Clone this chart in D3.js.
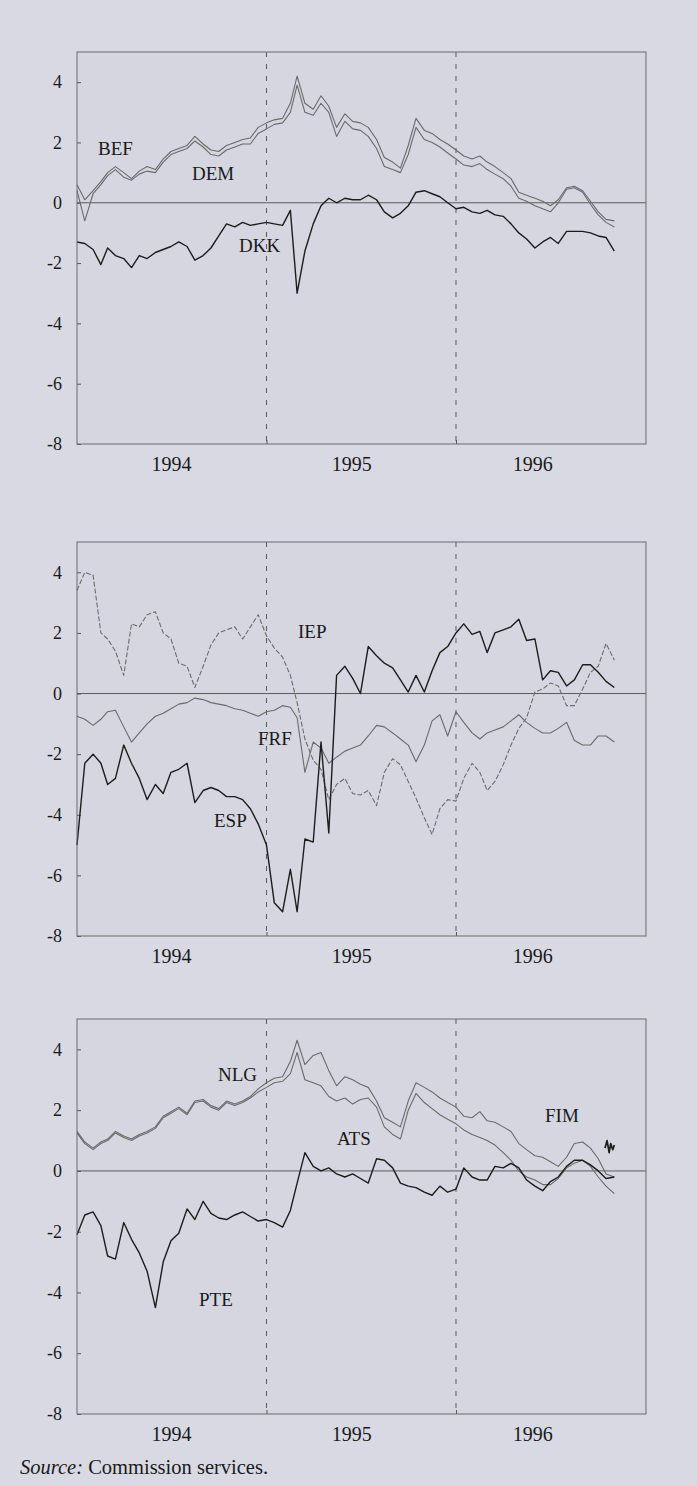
<!DOCTYPE html>
<html>
<head>
<meta charset="utf-8">
<script src="https://cdn.jsdelivr.net/npm/d3@7/dist/d3.min.js"></script>
<style>
  html, body { margin: 0; padding: 0; background: #d9d9e3; }
  svg { display: block; }
  text { font-family: "Liberation Serif", "Times New Roman", serif; fill: #1a1a1a; }
</style>
</head>
<body>
<svg id="chart" width="697" height="1486"></svg>
<script>
// ---------- DATA (semi-monthly readings, 1 Jan 1994 .. 1 Nov 1996) ----------
const nPoints = 69;
const dates = d3.range(nPoints).map(i => new Date(1994, Math.floor(i / 2), i % 2 ? 16 : 1));

const yTicks = [4, 2, 0, -2, -4, -6, -8];
const yearLabels = ["1994", "1995", "1996"];
const yearLabelDates = [new Date(1994, 6, 2), new Date(1995, 5, 14), new Date(1996, 4, 28)];
const yearBreaks = [new Date(1995, 0, 1), new Date(1996, 0, 1)];

// Panel 1
const bef = [0.6,0.1,0.4,0.7,1.0, 1.2,1.0,0.8,1.05,1.2, 1.1,1.45,1.7,1.8,1.9, 2.2,1.95,1.75,1.7,1.9, 2.0,2.1,2.15,2.5,2.65, 2.75,2.8,3.3,4.2,3.3, 3.1,3.55,3.2,2.5,2.95, 2.7,2.65,2.5,2.1,1.5, 1.35,1.15,1.9,2.8,2.4, 2.3,2.1,1.95,1.75,1.55, 1.45,1.55,1.35,1.2,1.0, 0.8,0.35,0.25,0.15,0.05, -0.1,0.1,0.5,0.55,0.4, 0.05,-0.3,-0.55,-0.6];
const dem = [0.4,-0.6,0.3,0.6,0.9, 1.1,0.85,0.75,0.95,1.05, 1.0,1.35,1.6,1.7,1.8, 2.05,1.85,1.6,1.55,1.75, 1.85,1.95,1.95,2.3,2.45, 2.6,2.65,3.0,3.9,3.0, 2.9,3.3,3.0,2.2,2.7, 2.45,2.4,2.2,1.8,1.2, 1.1,1.0,1.6,2.5,2.1, 2.0,1.85,1.65,1.45,1.25, 1.2,1.3,1.1,0.95,0.8, 0.55,0.15,0.05,-0.1,-0.2, -0.3,0.0,0.45,0.5,0.35, -0.05,-0.4,-0.65,-0.8];
const dkk = [-1.3,-1.35,-1.55,-2.05,-1.5, -1.75,-1.85,-2.15,-1.75,-1.85, -1.65,-1.55,-1.45,-1.3,-1.45, -1.9,-1.75,-1.5,-1.1,-0.7, -0.8,-0.65,-0.75,-0.7,-0.65, -0.7,-0.75,-0.25,-3.0,-1.6, -0.7,-0.1,0.15,0.0,0.15, 0.1,0.1,0.25,0.1,-0.3, -0.5,-0.35,-0.1,0.35,0.4, 0.3,0.2,0.0,-0.2,-0.15, -0.3,-0.35,-0.25,-0.4,-0.45, -0.7,-1.0,-1.2,-1.5,-1.3, -1.15,-1.35,-0.95,-0.95,-0.95, -1.0,-1.1,-1.15,-1.6];

// Panel 2
const iep = [3.4,4.0,3.9,2.0,1.8, 1.4,0.6,2.3,2.2,2.6, 2.7,2.0,1.8,1.0,0.9, 0.2,0.9,1.6,2.0,2.1, 2.2,1.8,2.2,2.6,1.9, 1.5,1.2,0.6,-0.3,-1.5, -2.2,-2.5,-3.5,-3.0,-2.8, -3.3,-3.35,-3.2,-3.7,-2.6, -2.15,-2.35,-2.9,-3.45,-4.1, -4.65,-3.8,-3.5,-3.55,-2.8, -2.3,-2.6,-3.2,-2.9,-2.35, -1.7,-1.15,-0.8,0.05,0.15, 0.35,0.25,-0.4,-0.4,0.15, 0.7,0.9,1.65,1.1];
const frf = [-0.75,-0.85,-1.05,-0.85,-0.6, -0.55,-1.1,-1.6,-1.3,-1.0, -0.75,-0.65,-0.5,-0.35,-0.3, -0.15,-0.2,-0.3,-0.35,-0.4, -0.5,-0.55,-0.65,-0.75,-0.6, -0.55,-0.4,-0.45,-0.8,-2.6, -1.6,-1.8,-2.3,-2.1,-1.9, -1.8,-1.7,-1.4,-1.05,-1.1, -1.3,-1.5,-1.7,-2.25,-1.7, -0.9,-0.7,-1.4,-0.6,-0.95, -1.3,-1.5,-1.3,-1.2,-1.1, -0.9,-0.7,-0.95,-1.15,-1.3, -1.3,-1.15,-0.95,-1.55,-1.7, -1.7,-1.4,-1.4,-1.6];
const esp = [-5.0,-2.3,-2.0,-2.3,-3.0, -2.8,-1.7,-2.3,-2.8,-3.5, -3.0,-3.3,-2.6,-2.5,-2.3, -3.6,-3.2,-3.1,-3.2,-3.4, -3.4,-3.5,-3.8,-4.3,-5.0, -6.9,-7.2,-5.8,-7.2,-4.8, -4.9,-1.6,-4.6,0.6,0.9, 0.5,0.0,1.55,1.25,1.0, 0.85,0.45,0.05,0.6,0.05, 0.75,1.35,1.55,2.0,2.3, 1.95,2.05,1.35,2.0,2.1, 2.2,2.45,1.75,1.8,0.45, 0.75,0.7,0.25,0.45,0.95, 0.95,0.7,0.4,0.2];

// Panel 3
const nlg = [1.3,0.95,0.75,0.95,1.05, 1.3,1.15,1.05,1.2,1.3, 1.45,1.8,1.95,2.1,1.9, 2.3,2.35,2.15,2.05,2.3, 2.2,2.3,2.45,2.7,2.9, 3.05,3.1,3.6,4.3,3.5, 3.8,3.9,3.3,2.8,3.1, 3.0,2.85,2.75,2.3,1.75, 1.6,1.45,2.3,2.9,2.75, 2.6,2.4,2.25,2.1,1.8, 1.75,1.95,1.65,1.6,1.45, 1.3,0.9,0.7,0.5,0.45, 0.3,0.15,0.45,0.9,0.95, 0.75,0.4,-0.1,-0.2];
const ats = [1.25,0.9,0.7,0.9,1.0, 1.25,1.1,1.0,1.15,1.25, 1.4,1.75,1.9,2.05,1.85, 2.25,2.3,2.1,2.0,2.25, 2.15,2.25,2.4,2.6,2.75, 2.9,2.95,3.2,3.9,3.0, 2.9,2.8,2.45,2.3,2.4, 2.2,2.35,2.4,2.1,1.45, 1.2,1.05,2.0,2.55,2.25, 2.05,1.85,1.7,1.55,1.35, 1.2,1.1,1.0,0.85,0.6, 0.35,0.0,-0.2,-0.3,-0.45, -0.45,-0.25,0.1,0.25,0.35, 0.15,-0.2,-0.5,-0.75];
const pte = [-2.1,-1.45,-1.35,-1.8,-2.8, -2.9,-1.7,-2.25,-2.7,-3.3, -4.5,-3.0,-2.3,-2.05,-1.25, -1.6,-1.0,-1.4,-1.55,-1.6, -1.45,-1.35,-1.5,-1.65,-1.6, -1.7,-1.85,-1.3,-0.4,0.6, 0.15,0.0,0.1,-0.1,-0.2, -0.1,-0.25,-0.4,0.4,0.35, 0.1,-0.4,-0.5,-0.55,-0.7, -0.8,-0.5,-0.7,-0.6,0.1, -0.2,-0.3,-0.3,0.15,0.1, 0.25,0.1,-0.3,-0.5,-0.65, -0.35,-0.2,0.15,0.35,0.35, 0.2,0.0,-0.25,-0.2];
const fimDates = [new Date(1996,9,14), new Date(1996,9,18), new Date(1996,9,22), new Date(1996,9,25), new Date(1996,9,29), new Date(1996,10,1)];
const fimValues = [0.75, 1.0, 0.6, 0.9, 0.7, 0.85];

// ---------- LAYOUT ----------
const left = 77, right = 646;
const x = d3.scaleTime().domain([new Date(1994,0,1), new Date(1997,0,1)]).range([left, right]);

const BLACK = "#1c1c1c", GREY = "#6a6a6a";
const panels = [
  { top: 52, bottom: 444,
    series: [
      { v: bef, color: GREY, w: 1.1 },
      { v: dem, color: GREY, w: 1.1 },
      { v: dkk, color: BLACK, w: 1.4 } ],
    labels: [ ["BEF", 98, 155], ["DEM", 192, 180], ["DKK", 239, 252] ] },
  { top: 542, bottom: 936,
    series: [
      { v: iep, color: "#6c6c6c", w: 1.1, dash: "5,2" },
      { v: frf, color: GREY, w: 1.1 },
      { v: esp, color: BLACK, w: 1.4 } ],
    labels: [ ["IEP", 298, 638], ["FRF", 258, 745], ["ESP", 214, 827] ] },
  { top: 1019, bottom: 1414,
    series: [
      { v: nlg, color: GREY, w: 1.1 },
      { v: ats, color: GREY, w: 1.1 },
      { v: pte, color: BLACK, w: 1.4 },
      { v: fimValues, d: fimDates, color: BLACK, w: 1.7 } ],
    labels: [ ["NLG", 218, 1081], ["ATS", 337, 1145], ["FIM", 545, 1122], ["PTE", 199, 1306] ] }
];

const svg = d3.select("#chart");
svg.append("rect").attr("width", 697).attr("height", 1486).attr("fill", "#d9d9e3");

panels.forEach(p => {
  const y = d3.scaleLinear().domain([-8, 5]).range([p.bottom, p.top]);
  const g = svg.append("g");

  g.append("rect").attr("x", left).attr("y", p.top)
    .attr("width", right - left).attr("height", p.bottom - p.top)
    .attr("fill", "#d6d6e0");

  g.selectAll(".yb").data(yearBreaks).enter().append("line")
    .attr("x1", d => x(d)).attr("x2", d => x(d))
    .attr("y1", p.top).attr("y2", p.bottom)
    .attr("stroke", "#5a5a5a").attr("stroke-width", 1)
    .attr("stroke-dasharray", "5,7");

  g.append("line").attr("x1", left).attr("x2", right)
    .attr("y1", y(0)).attr("y2", y(0))
    .attr("stroke", "#5a5a5a").attr("stroke-width", 1);

  const yAxis = d3.axisLeft(y).tickValues(yTicks).tickSize(-4).tickPadding(15)
    .tickFormat(d => d < 0 ? "-" + Math.abs(d) : String(d));
  const ya = g.append("g").attr("transform", `translate(${left},0)`).call(yAxis);
  ya.select(".domain").remove();
  ya.selectAll("line").attr("stroke", "#555");
  ya.selectAll("text").attr("font-size", 18).style("font-family", '"Liberation Serif", serif').attr("fill", "#1a1a1a");

  const xa = g.append("g").attr("transform", `translate(0,${p.bottom})`)
    .call(d3.axisBottom(x).tickValues(yearBreaks).tickSize(-4).tickFormat(""));
  xa.select(".domain").remove();
  xa.selectAll("line").attr("stroke", "#555");
  g.selectAll(".yl").data(yearLabels).enter().append("text")
    .attr("x", (d, i) => x(yearLabelDates[i]))
    .attr("y", p.bottom + 27)
    .attr("text-anchor", "middle").attr("font-size", 20)
    .text(d => d);

  p.series.forEach(s => {
    const ds = s.d || dates;
    const line = d3.line().x((d, i) => x(ds[i])).y(d => y(d));
    g.append("path").datum(s.v)
      .attr("d", line)
      .attr("fill", "none")
      .attr("stroke", s.color)
      .attr("stroke-width", s.w)
      .attr("stroke-linejoin", "round")
      .attr("stroke-dasharray", s.dash || null);
  });

  g.append("rect").attr("x", left).attr("y", p.top)
    .attr("width", right - left).attr("height", p.bottom - p.top)
    .attr("fill", "none").attr("stroke", "#6a6a6a").attr("stroke-width", 1);

  p.labels.forEach(([t, lx, ly]) => {
    g.append("text").attr("x", lx).attr("y", ly).attr("font-size", 19).text(t);
  });
});

const src = svg.append("text").attr("x", 20).attr("y", 1474).attr("font-size", 20.5);
src.append("tspan").attr("font-style", "italic").text("Source:");
src.append("tspan").text(" Commission services.");
</script>
</body>
</html>
